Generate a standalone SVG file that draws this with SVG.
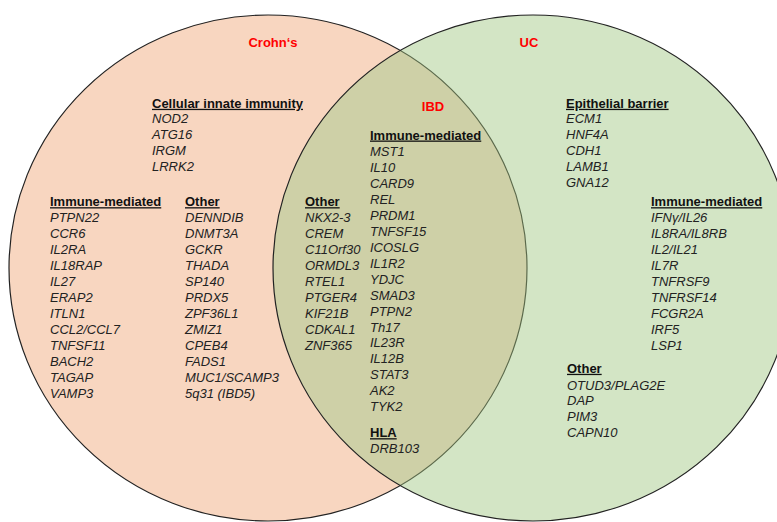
<svg xmlns="http://www.w3.org/2000/svg" width="777" height="522" viewBox="0 0 777 522">
  <style>
    .set-label { font-family: "Liberation Sans", Arial, sans-serif; font-size: 13px; font-weight: bold; fill: #ff0000; text-anchor: middle; }
    .head { font-family: "Liberation Sans", Arial, sans-serif; font-size: 13px; font-weight: bold; fill: #111; text-decoration: underline; }
    .gene { font-family: "Liberation Sans", Arial, sans-serif; font-size: 13px; font-style: italic; fill: #222; }
  </style>
  <defs>
    <clipPath id="clip-uc">
      <ellipse cx="533" cy="268" rx="260" ry="253"/>
    </clipPath>
  </defs>

  <rect width="777" height="522" fill="#ffffff"/>

  <!-- Set areas -->
  <g id="set-crohns">
    <ellipse cx="268" cy="268" rx="259" ry="253" fill="#f8d6c0" stroke="#222" stroke-width="1.2"/>
  </g>
  <g id="set-uc">
    <ellipse cx="533" cy="268" rx="260" ry="253" fill="#d3e5c5" stroke="none"/>
  </g>
  <g id="set-ibd" clip-path="url(#clip-uc)">
    <ellipse cx="268" cy="268" rx="259" ry="253" fill="#ced0a7" stroke="#5c6a4c" stroke-width="1.2"/>
  </g>
  <ellipse cx="533" cy="268" rx="260" ry="253" fill="none" stroke="#222" stroke-width="1.2"/>

  <!-- Set titles -->
  <text class="set-label" x="273" y="47">Crohn‘s</text>
  <text class="set-label" x="529" y="47">UC</text>
  <text class="set-label" x="433" y="111">IBD</text>

  <!-- Crohn's only -->
  <g id="cd-innate">
    <text class="head" x="152" y="107.8">Cellular innate immunity</text>
    <text class="gene" x="152" y="122.8">NOD2<tspan x="152" dy="16.1">ATG16</tspan><tspan x="152" dy="16.1">IRGM</tspan><tspan x="152" dy="16.1">LRRK2</tspan></text>
  </g>
  <g id="cd-immune">
    <text class="head" x="50" y="206.2">Immune-mediated</text>
    <text class="gene" x="50" y="221.8">PTPN22<tspan x="50" dy="16">CCR6</tspan><tspan x="50" dy="16">IL2RA</tspan><tspan x="50" dy="16">IL18RAP</tspan><tspan x="50" dy="16">IL27</tspan><tspan x="50" dy="16">ERAP2</tspan><tspan x="50" dy="16">ITLN1</tspan><tspan x="50" dy="16">CCL2/CCL7</tspan><tspan x="50" dy="16">TNFSF11</tspan><tspan x="50" dy="16">BACH2</tspan><tspan x="50" dy="16">TAGAP</tspan><tspan x="50" dy="16">VAMP3</tspan></text>
  </g>
  <g id="cd-other">
    <text class="head" x="185" y="206.2">Other</text>
    <text class="gene" x="185" y="221.8">DENNDIB<tspan x="185" dy="16">DNMT3A</tspan><tspan x="185" dy="16">GCKR</tspan><tspan x="185" dy="16">THADA</tspan><tspan x="185" dy="16">SP140</tspan><tspan x="185" dy="16">PRDX5</tspan><tspan x="185" dy="16">ZPF36L1</tspan><tspan x="185" dy="16">ZMIZ1</tspan><tspan x="185" dy="16">CPEB4</tspan><tspan x="185" dy="16">FADS1</tspan><tspan x="185" dy="16">MUC1/SCAMP3</tspan><tspan x="185" dy="16">5q31 (IBD5)</tspan></text>
  </g>

  <!-- Shared (IBD) -->
  <g id="ibd-other">
    <text class="head" x="305" y="206.2">Other</text>
    <text class="gene" x="305" y="221.8">NKX2-3<tspan x="305" dy="16">CREM</tspan><tspan x="305" dy="16">C11Orf30</tspan><tspan x="305" dy="16">ORMDL3</tspan><tspan x="305" dy="16">RTEL1</tspan><tspan x="305" dy="16">PTGER4</tspan><tspan x="305" dy="16">KIF21B</tspan><tspan x="305" dy="16">CDKAL1</tspan><tspan x="305" dy="16">ZNF365</tspan></text>
  </g>
  <g id="ibd-immune">
    <text class="head" x="370" y="139.5">Immune-mediated</text>
    <text class="gene" x="370" y="156.2">MST1<tspan x="370" dy="15.94">IL10</tspan><tspan x="370" dy="15.94">CARD9</tspan><tspan x="370" dy="15.94">REL</tspan><tspan x="370" dy="15.94">PRDM1</tspan><tspan x="370" dy="15.94">TNFSF15</tspan><tspan x="370" dy="15.94">ICOSLG</tspan><tspan x="370" dy="15.94">IL1R2</tspan><tspan x="370" dy="15.94">YDJC</tspan><tspan x="370" dy="15.94">SMAD3</tspan><tspan x="370" dy="15.94">PTPN2</tspan><tspan x="370" dy="15.94">Th17</tspan><tspan x="370" dy="15.94">IL23R</tspan><tspan x="370" dy="15.94">IL12B</tspan><tspan x="370" dy="15.94">STAT3</tspan><tspan x="370" dy="15.94">AK2</tspan><tspan x="370" dy="15.94">TYK2</tspan></text>
  </g>
  <g id="ibd-hla">
    <text class="head" x="370" y="437.2">HLA</text>
    <text class="gene" x="370" y="452.8">DRB103</text>
  </g>

  <!-- UC only -->
  <g id="uc-barrier">
    <text class="head" x="566" y="107.8">Epithelial barrier</text>
    <text class="gene" x="566" y="122.8">ECM1<tspan x="566" dy="16">HNF4A</tspan><tspan x="566" dy="16">CDH1</tspan><tspan x="566" dy="16">LAMB1</tspan><tspan x="566" dy="16">GNA12</tspan></text>
  </g>
  <g id="uc-immune">
    <text class="head" x="651" y="206.2">Immune-mediated</text>
    <text class="gene" x="651" y="221.8">IFNγ/IL26<tspan x="651" dy="16">IL8RA/IL8RB</tspan><tspan x="651" dy="16">IL2/IL21</tspan><tspan x="651" dy="16">IL7R</tspan><tspan x="651" dy="16">TNFRSF9</tspan><tspan x="651" dy="16">TNFRSF14</tspan><tspan x="651" dy="16">FCGR2A</tspan><tspan x="651" dy="16">IRF5</tspan><tspan x="651" dy="16">LSP1</tspan></text>
  </g>
  <g id="uc-other">
    <text class="head" x="567" y="372.8">Other</text>
    <text class="gene" x="567" y="389.5">OTUD3/PLAG2E<tspan x="567" dy="15.8">DAP</tspan><tspan x="567" dy="15.8">PIM3</tspan><tspan x="567" dy="15.8">CAPN10</tspan></text>
  </g>
</svg>
